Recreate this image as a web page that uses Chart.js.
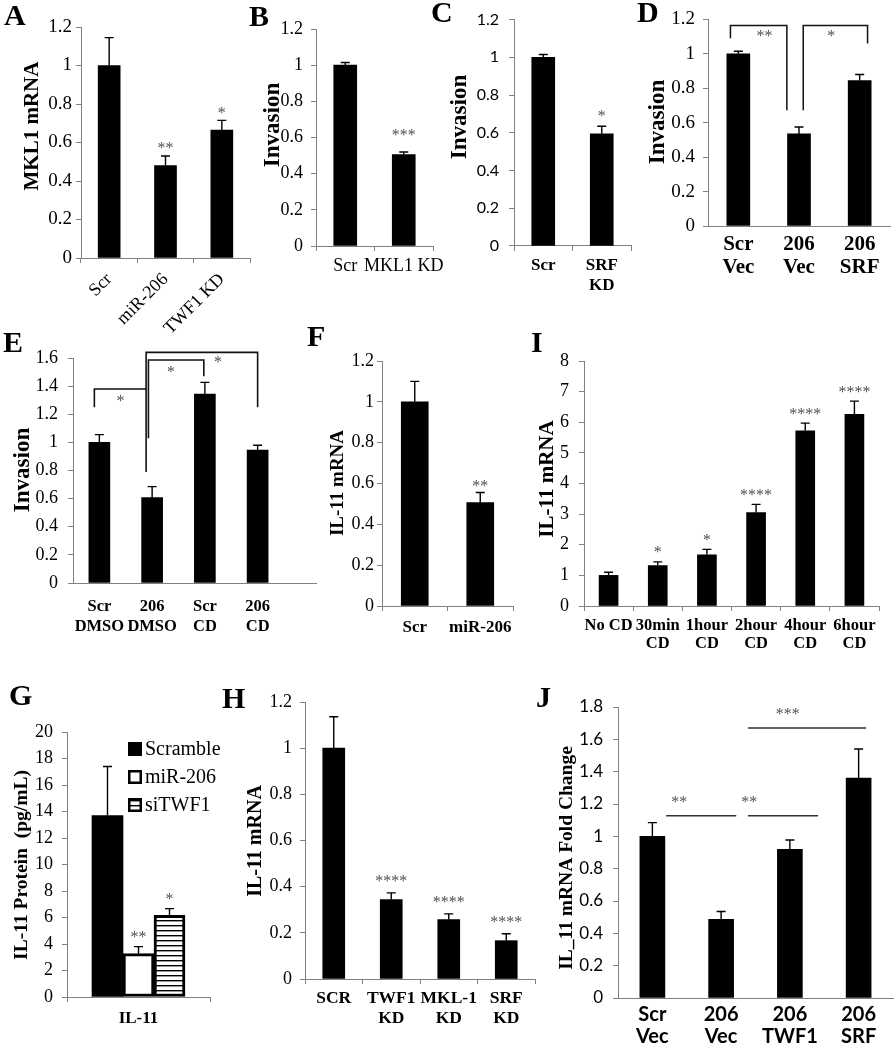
<!DOCTYPE html>
<html><head><meta charset="utf-8">
<script src="https://cdn.jsdelivr.net/npm/chart.js@4.4.1/dist/chart.umd.min.js"></script>
<style>
html,body{margin:0;padding:0;background:#fff;}
#wrap{position:relative;width:894px;height:1050px;overflow:hidden;background:#fff;}
#wrap canvas{position:absolute;left:0;top:0;}
</style></head><body><div id="wrap"></div>
<script>
// ---------------- data ----------------
const catsA = ['Scr', 'miR-206', 'TWF1 KD'];
const valsA = [1.0, 0.48, 0.665];
const errA = [0.145, 0.05, 0.05];
const starsA = ['', '**', '*'];

const catsB = ['Scr', 'MKL1 KD'];
const valsB = [1.0, 0.505];
const errB = [0.015, 0.015];
const starsB = ['', '***'];

const catsC = ['Scr', ['SRF', 'KD']];
const valsC = [1.0, 0.595];
const errC = [0.015, 0.04];
const starsC = ['', '*'];

const catsD = [['Scr', 'Vec'], ['206', 'Vec'], ['206', 'SRF']];
const valsD = [1.0, 0.535, 0.845];
const errD = [0.015, 0.04, 0.035];
// significance brackets: [category position, axis value]
const bracketsD = [
  [[-0.13, 1.09], [-0.13, 1.165], [0.80, 1.165], [0.80, 0.672]],
  [[1.07, 0.672], [1.07, 1.165], [2.13, 1.165], [2.13, 1.06]]
];
const bracketStarsD = [['**', 0.43, 1.12], ['*', 1.53, 1.12]];

const catsE = [['Scr', 'DMSO'], ['206', 'DMSO'], ['Scr', 'CD'], ['206', 'CD']];
const valsE = [1.0, 0.607, 1.344, 0.946];
const errE = [0.055, 0.078, 0.083, 0.034];
const bracketsE = [
  [[-0.095, 1.25], [-0.095, 1.38], [0.886, 1.38]],
  [[0.886, 0.79], [0.886, 1.64], [3.0, 1.64], [3.0, 1.25]],
  [[0.93, 1.03], [0.93, 1.586], [1.98, 1.586], [1.98, 1.47]]
];
const bracketStarsE = [['*', 0.4, 1.31], ['*', 1.36, 1.52], ['*', 2.25, 1.59]];

const catsF = ['Scr', 'miR-206'];
const valsF = [1.0, 0.506];
const errF = [0.10, 0.05];
const starsF = ['', '**'];

const catsI = ['No CD', ['30min', 'CD'], ['1hour', 'CD'], ['2hour', 'CD'], ['4hour', 'CD'], ['6hour', 'CD']];
const valsI = [1.0, 1.32, 1.67, 3.05, 5.72, 6.26];
const errI = [0.10, 0.12, 0.18, 0.27, 0.25, 0.43];
const starsI = ['', '*', '*', '****', '****', '****'];

const catsG = ['IL-11'];
const seriesG = ['Scramble', 'miR-206', 'siTWF1'];
const valsG = [13.7, 3.27, 6.17];
const errG = [3.7, 0.53, 0.5];
const starsG = ['', '**', '*'];

const catsH = ['SCR', ['TWF1', 'KD'], ['MKL-1', 'KD'], ['SRF', 'KD']];
const valsH = [1.0, 0.344, 0.257, 0.166];
const errH = [0.136, 0.029, 0.025, 0.03];
const starsH = ['', '****', '****', '****'];

const catsJ = [['Scr', 'Vec'], ['206', 'Vec'], ['206', 'TWF1'], ['206', 'SRF']];
const valsJ = [1.0, 0.487, 0.92, 1.36];
const errJ = [0.085, 0.048, 0.057, 0.18];
const linesJ = [
  [[0.2, 1.127], [1.22, 1.127]],
  [[1.39, 1.127], [2.41, 1.127]],
  [[1.39, 1.67], [3.11, 1.67]]
];
const lineStarsJ = [['**', 0.39, 1.23], ['**', 1.41, 1.23], ['***', 1.97, 1.77]];

// ---------------- drawing ----------------
const SERIF = '"Liberation Serif","Times New Roman",Times,serif';
const SANS = 'Lato,Carlito,"Liberation Sans",sans-serif';
const AXIS = '#7f7f7f';
const W = 894, H = 1050;
const wrap = document.getElementById('wrap');

function stripePattern() {
  const c = document.createElement('canvas'); c.width = 6; c.height = 5;
  const g = c.getContext('2d');
  g.fillStyle = '#fff'; g.fillRect(0, 0, 6, 5);
  g.fillStyle = '#000'; g.fillRect(0, 0, 6, 1.4);
  return g.createPattern(c, 'repeat');
}

function drawStar(ctx, t, x, yc, size) {
  ctx.font = size + 'px ' + SERIF;
  ctx.fillStyle = '#505050';
  ctx.textAlign = 'center';
  ctx.textBaseline = 'alphabetic';
  ctx.fillText(t, x, yc + 0.47 * size);
}

function simpleSet(vals, err, stars) {
  return [{ data: vals, backgroundColor: '#000', borderWidth: 0, errors: err, stars: stars }];
}

function panel(p) {
  const cv = document.createElement('canvas');
  cv.width = W; cv.height = H;
  wrap.appendChild(cv);
  const a = p.area, yW = 60;
  const plug = {
    id: 'panel' + p.letter[0],
    afterDatasetsDraw(chart) {
      const ctx = chart.ctx, xs = chart.scales.x, ys = chart.scales.y;
      ctx.save();
      chart.data.datasets.forEach((ds, di) => {
        const meta = chart.getDatasetMeta(di);
        meta.data.forEach((el, i) => {
          const v = ds.data[i], e = ds.errors ? ds.errors[i] : 0;
          const yt = ys.getPixelForValue(v + e);
          if (e) {
            ctx.strokeStyle = '#000'; ctx.lineWidth = 1.4;
            ctx.beginPath();
            ctx.moveTo(el.x, el.y); ctx.lineTo(el.x, yt);
            ctx.moveTo(el.x - 4.5, yt); ctx.lineTo(el.x + 4.5, yt);
            ctx.stroke();
          }
          const s = ds.stars && ds.stars[i];
          if (s) drawStar(ctx, s, el.x, yt - p.starGap, 16);
        });
      });
      (p.paths || []).forEach(path => {
        ctx.beginPath();
        path.forEach(([x, y], k) => {
          const px = xs.getPixelForValue(x), py = ys.getPixelForValue(y);
          if (k) ctx.lineTo(px, py); else ctx.moveTo(px, py);
        });
        ctx.strokeStyle = p.pathColor || '#000';
        ctx.lineWidth = p.pathW || 1.5;
        ctx.stroke();
      });
      (p.pathStars || []).forEach(([t, x, y]) => drawStar(ctx, t, xs.getPixelForValue(x), ys.getPixelForValue(y), 16));
      ctx.restore();
    },
    afterDraw(chart) {
      const ctx = chart.ctx, ca = chart.chartArea;
      ctx.save();
      // panel letter
      ctx.font = 'bold 30px ' + SERIF;
      ctx.fillStyle = '#000'; ctx.textAlign = 'left'; ctx.textBaseline = 'alphabetic';
      ctx.fillText(p.letter[0], p.letter[1], p.letter[2]);
      // y-axis title
      ctx.translate(p.title[1], p.title[2]);
      ctx.rotate(-Math.PI / 2);
      ctx.font = 'bold ' + p.title[3] + 'px ' + SERIF;
      ctx.textAlign = 'center'; ctx.textBaseline = 'middle';
      ctx.fillText(p.title[0], 0, 0);
      ctx.restore();
      if (p.extendTo) {
        ctx.save();
        ctx.strokeStyle = AXIS; ctx.lineWidth = 1;
        ctx.beginPath();
        ctx.moveTo(ca.right, Math.round(ca.bottom) + 0.5);
        ctx.lineTo(p.extendTo, Math.round(ca.bottom) + 0.5);
        ctx.stroke();
        ctx.restore();
      }
      if (p.legend) {
        ctx.save();
        const [lx, ly, step] = p.legend;
        chart.data.datasets.forEach((ds, k) => {
          const y = ly + k * step;
          ctx.fillStyle = ds.backgroundColor;
          ctx.fillRect(lx, y - 7, 14, 14);
          if (ds.borderWidth) {
            ctx.strokeStyle = '#000'; ctx.lineWidth = 2.5;
            ctx.strokeRect(lx + 1.25, y - 5.75, 11.5, 11.5);
          }
          ctx.fillStyle = '#000';
          ctx.font = '20px ' + SERIF;
          ctx.textAlign = 'left'; ctx.textBaseline = 'middle';
          ctx.fillText(ds.label, lx + 17, y + 1);
        });
        ctx.restore();
      }
    }
  };
  new Chart(cv.getContext('2d'), {
    type: 'bar',
    data: { labels: p.labels, datasets: p.datasets },
    options: {
      responsive: false, animation: false, devicePixelRatio: 1,
      layout: { padding: { left: a[0] - yW, top: a[1], right: W - a[2], bottom: 0 } },
      plugins: { legend: { display: false }, tooltip: { enabled: false } },
      datasets: { bar: { barThickness: p.bar, borderSkipped: false } },
      scales: {
        x: {
          grid: { display: true, drawOnChartArea: false, drawTicks: !!p.xTicks, tickLength: 5, color: AXIS },
          border: { color: AXIS, width: 1 },
          ticks: { color: '#000', font: p.xFont, padding: p.xPad, autoSkip: false, maxRotation: p.rot || 0, minRotation: p.rot || 0 },
          afterFit(s) { s.height = H - a[3]; }
        },
        y: {
          min: 0, max: p.yMax,
          grid: { drawOnChartArea: false, drawTicks: true, tickLength: 5, color: AXIS },
          border: { color: AXIS, width: 1 },
          ticks: { stepSize: p.step, color: '#000', font: p.yFont, padding: p.yPad,
                   callback: v => String(Math.round(v * 100) / 100) },
          afterFit(s) { s.width = yW; }
        }
      }
    },
    plugins: [plug]
  });
}

const serif = (size, weight, lh) => ({ family: SERIF, size: size, weight: weight || 'normal', lineHeight: lh || 1.2 });
const sans = (size, weight, lh) => ({ family: SANS, size: size, weight: weight || 'normal', lineHeight: lh || 1.2 });

// A
panel({ area: [81, 27, 250, 258], yMax: 1.2, step: 0.2, yFont: serif(19), yPad: 4,
  labels: catsA, datasets: simpleSet(valsA, errA, starsA), xFont: serif(18), rot: 45, xPad: 6, xTicks: true,
  bar: 22, starGap: 10, letter: ['A', 4, 25], title: ['MKL1 mRNA', 33, 126, 21] });
// B
panel({ area: [316, 29, 433, 246], yMax: 1.2, step: 0.2, yFont: serif(18), yPad: 8,
  labels: catsB, datasets: simpleSet(valsB, errB, starsB), xFont: serif(18), xPad: 4, xTicks: true,
  bar: 23, starGap: 19, letter: ['B', 249, 26], title: ['Invasion', 273, 125, 23] });
// C
panel({ area: [514, 13, 631, 246], yMax: 1.2, step: 0.2, yFont: sans(16), yPad: 10,
  labels: catsC, datasets: simpleSet(valsC, errC, starsC), xFont: serif(17, 'bold', 1.2), xPad: 4, xTicks: true,
  bar: 23, starGap: 12.5, letter: ['C', 431, 22], title: ['Invasion', 460, 117, 23] });
// D
panel({ area: [708, 19, 890, 226], yMax: 1.2, step: 0.2, yFont: serif(19), yPad: 8,
  labels: catsD, datasets: simpleSet(valsD, errD, null), xFont: serif(21, 'bold', 1.1), xPad: 7, xTicks: false,
  bar: 23, letter: ['D', 637, 22], title: ['Invasion', 658, 122, 23],
  paths: bracketsD, pathStars: bracketStarsD, pathColor: '#111', pathW: 1.5 });
// E
panel({ area: [73, 358, 284, 583], yMax: 1.6, step: 0.2, yFont: serif(18), yPad: 10,
  labels: catsE, datasets: simpleSet(valsE, errE, null), xFont: serif(16.5, 'bold', 1.25), xPad: 13, xTicks: false,
  bar: 21, letter: ['E', 3, 352], title: ['Invasion', 23, 470, 23], extendTo: 317,
  paths: bracketsE, pathStars: bracketStarsE, pathColor: '#111', pathW: 1.6 });
// F
panel({ area: [382, 361, 513, 606], yMax: 1.2, step: 0.2, yFont: serif(18), yPad: 3,
  labels: catsF, datasets: simpleSet(valsF, errF, starsF), xFont: serif(17, 'bold'), xPad: 6, xTicks: true,
  bar: 27, starGap: 9.5, letter: ['F', 307, 346], title: ['IL-11 mRNA', 338, 483, 19] });
// I
panel({ area: [584, 361, 879, 606], yMax: 8, step: 1, yFont: serif(18), yPad: 10,
  labels: catsI, datasets: simpleSet(valsI, errI, starsI), xFont: serif(16.5, 'bold', 1.05), xPad: 6.5, xTicks: true,
  bar: 19, starGap: 12, letter: ['I', 531, 352], title: ['IL-11 mRNA', 548, 479, 21] });
// G
const stripes = stripePattern();
panel({ area: [67, 732, 210, 997], yMax: 20, step: 2, yFont: serif(18), yPad: 9,
  labels: catsG,
  datasets: [
    { label: seriesG[0], data: [valsG[0]], backgroundColor: '#000', borderWidth: 0, errors: [errG[0]], stars: [starsG[0]] },
    { label: seriesG[1], data: [valsG[1]], backgroundColor: '#fff', borderColor: '#000', borderWidth: 3, errors: [errG[1]], stars: [starsG[1]] },
    { label: seriesG[2], data: [valsG[2]], backgroundColor: stripes, borderColor: '#000', borderWidth: 3, errors: [errG[2]], stars: [starsG[2]] }
  ],
  xFont: serif(17, 'bold'), xPad: 6, xTicks: true,
  bar: 31, starGap: 12, letter: ['G', 9, 705], title: ['IL-11 Protein  (pg/mL)', 22, 865, 19.5],
  legend: [128, 749, 28] });
// H
panel({ area: [305, 702, 535, 979], yMax: 1.2, step: 0.2, yFont: serif(18), yPad: 8,
  labels: catsH, datasets: simpleSet(valsH, errH, starsH), xFont: serif(17.5, 'bold', 1.15), xPad: 4, xTicks: true,
  bar: 22, starGap: 14, letter: ['H', 222, 708], title: ['IL-11 mRNA', 256, 841, 20] });
// J
panel({ area: [618, 707, 893, 998], yMax: 1.8, step: 0.2, yFont: sans(17), yPad: 10,
  labels: catsJ, datasets: simpleSet(valsJ, errJ, null), xFont: sans(20, 'bold', 1.12), xPad: 5, xTicks: false,
  bar: 25, letter: ['J', 536, 707], title: ['IL_11 mRNA Fold Change', 567, 858, 19.5],
  paths: linesJ, pathStars: lineStarsJ, pathColor: '#333', pathW: 1.5 });
</script>
</body></html>
